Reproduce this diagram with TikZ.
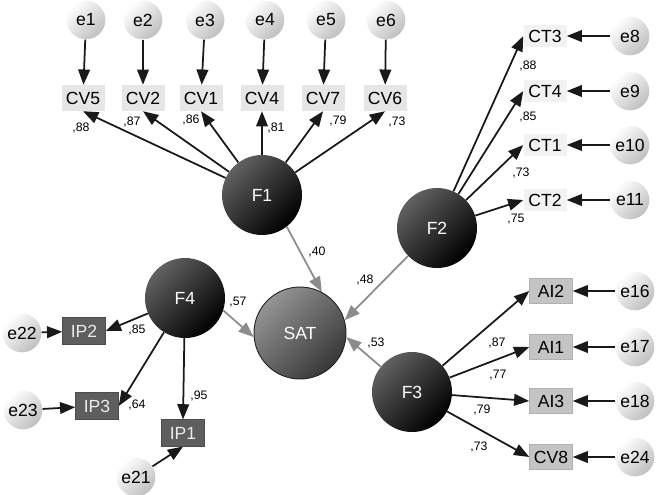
\documentclass[tikz,border=0pt]{standalone}
\usepackage{fontspec}
\setmainfont{Liberation Sans}
\usetikzlibrary{arrows.meta}
\definecolor{pathgray}{HTML}{8C8C8C}
\definecolor{cvfill}{HTML}{E6E6E6}
\definecolor{ctfill}{HTML}{F2F2F2}
\definecolor{aifill}{HTML}{C4C4C4}
\definecolor{ipfill}{HTML}{5E5E5E}
\tikzset{
    errnode/.style={circle,inner sep=0pt,minimum size=1.16cm,font=\fontsize{15}{15}\selectfont,shade,top color=white,bottom color=black!25,shading angle=45},
    latent/.style={circle,inner sep=0pt,minimum size=2.4cm,text=white,font=\fontsize{15}{15}\selectfont,shade,top color=black!62,bottom color=black,shading angle=45},
    satnode/.style={latent,minimum size=2.76cm,draw=black!85,line width=0.8pt,top color=black!42,bottom color=black!78,shading angle=45},
    cvbox/.style={rectangle,inner sep=0pt,minimum width=1.29cm,minimum height=0.78cm,fill=cvfill,font=\fontsize{15}{15}\selectfont},
    ctbox/.style={cvbox,minimum height=0.68cm,fill=ctfill},
    aibox/.style={cvbox,minimum height=0.74cm,fill=aifill,draw=black!30},
    ipbox/.style={cvbox,minimum height=0.8cm,fill=ipfill,draw=black!70,text=black!8},
    loadline/.style={-{Triangle[length=13pt,width=10pt]},line width=1.5pt,black!90},
    pathline/.style={-{Triangle[length=13pt,width=10pt]},line width=1.5pt,pathgray},
    coef/.style={inner sep=0pt,text=black,font=\fontsize{10.5}{10.5}\selectfont}
}
\begin{document}
\begin{tikzpicture}[x=0.03cm,y=-0.03cm]
    \useasboundingbox (0,0) rectangle (656,494);
    \node[errnode] (e1) at (86,20) {e1};
    \node[errnode] (e2) at (143,20) {e2};
    \node[errnode] (e3) at (205,20) {e3};
    \node[errnode] (e4) at (265,20) {e4};
    \node[errnode] (e5) at (326,20) {e5};
    \node[errnode] (e6) at (386,20) {e6};
    \node[cvbox] (cv5) at (83,98) {CV5};
    \node[cvbox] (cv2) at (143,98) {CV2};
    \node[cvbox] (cv1) at (201,98) {CV1};
    \node[cvbox] (cv4) at (262,98) {CV4};
    \node[cvbox] (cv7) at (323,98) {CV7};
    \node[cvbox] (cv6) at (385,98) {CV6};
    \node[latent] (f1) at (262,195) {F1};
    \node[latent] (f2) at (437,228) {F2};
    \node[latent] (f3) at (412,392) {F3};
    \node[latent] (f4) at (185,298) {F4};
    \node[satnode] (sat) at (300,333) {SAT};
    \node[ctbox] (ct3) at (545,36) {CT3};
    \node[ctbox] (ct4) at (545,91) {CT4};
    \node[ctbox] (ct1) at (545,145) {CT1};
    \node[ctbox] (ct2) at (545,200) {CT2};
    \node[errnode] (e8) at (630,36) {e8};
    \node[errnode] (e9) at (630,91) {e9};
    \node[errnode] (e10) at (630,145) {e10};
    \node[errnode] (e11) at (630,200) {e11};
    \node[aibox] (ai2) at (551,291) {AI2};
    \node[aibox] (ai1) at (551,347) {AI1};
    \node[aibox] (ai3) at (551,401) {AI3};
    \node[aibox] (cv8) at (551,457) {CV8};
    \node[errnode] (e16) at (635,291) {e16};
    \node[errnode] (e17) at (635,347) {e17};
    \node[errnode] (e18) at (635,401) {e18};
    \node[errnode] (e24) at (635,457) {e24};
    \node[ipbox] (ip2) at (84,331) {IP2};
    \node[ipbox] (ip3) at (97,406) {IP3};
    \node[ipbox] (ip1) at (183,433) {IP1};
    \node[errnode] (e22) at (22,333) {e22};
    \node[errnode] (e23) at (23,410) {e23};
    \node[errnode] (e21) at (136,477) {e21};
    \draw[loadline] (e1) -- (cv5);
    \draw[loadline] (e2) -- (cv2);
    \draw[loadline] (e3) -- (cv1);
    \draw[loadline] (e4) -- (cv4);
    \draw[loadline] (e5) -- (cv7);
    \draw[loadline] (e6) -- (cv6);
    \draw[loadline] (f1) -- (cv5.south) node[coef] at (81,128) {,88};
    \draw[loadline] (f1) -- (cv2.south) node[coef] at (132,122) {,87};
    \draw[loadline] (f1) -- (cv1.south) node[coef] at (191,120) {,86};
    \draw[loadline] (f1) -- (cv4.south) node[coef] at (276,128) {,81};
    \draw[loadline] (f1) -- (cv7.south) node[coef] at (338,121) {,79};
    \draw[loadline] (f1) -- (cv6.south) node[coef] at (397,122) {,73};
    \draw[loadline] (e8) -- (ct3);
    \draw[loadline] (e9) -- (ct4);
    \draw[loadline] (e10) -- (ct1);
    \draw[loadline] (e11) -- (ct2);
    \draw[loadline] (f2) -- (ct3.west) node[coef] at (528,66) {,88};
    \draw[loadline] (f2) -- (ct4.west) node[coef] at (528,117) {,85};
    \draw[loadline] (f2) -- (ct1.west) node[coef] at (521,173) {,73};
    \draw[loadline] (f2) -- (ct2.west) node[coef] at (516,219) {,75};
    \draw[loadline] (e16) -- (ai2);
    \draw[loadline] (e17) -- (ai1);
    \draw[loadline] (e18) -- (ai3);
    \draw[loadline] (e24) -- (cv8);
    \draw[loadline] (f3) -- (ai2.west) node[coef] at (497,343) {,87};
    \draw[loadline] (f3) -- (ai1.west) node[coef] at (498,375) {,77};
    \draw[loadline] (f3) -- (ai3.west) node[coef] at (482,410) {,79};
    \draw[loadline] (f3) -- (cv8.west) node[coef] at (479,447) {,73};
    \draw[loadline] (e22) -- (ip2);
    \draw[loadline] (e23) -- (ip3);
    \draw[loadline] (e21) -- (ip1.south);
    \draw[loadline] (f4) -- (ip2.east) node[coef] at (137,330) {,85};
    \draw[loadline] (f4) -- (ip3.east) node[coef] at (137,405) {,64};
    \draw[loadline] (f4) -- (ip1.north) node[coef] at (199,396) {,95};
    \draw[pathline] (f1.-52) -- (sat.62) node[coef] at (317,252) {,40};
    \draw[pathline] (f2.-136) -- (sat.16) node[coef] at (365,280) {,48};
    \draw[pathline] (f3.141) -- (sat.-5) node[coef] at (376,343) {,53};
    \draw[pathline] (f4.-18) -- (sat.185) node[coef] at (238,302) {,57};
\end{tikzpicture}
\end{document}
